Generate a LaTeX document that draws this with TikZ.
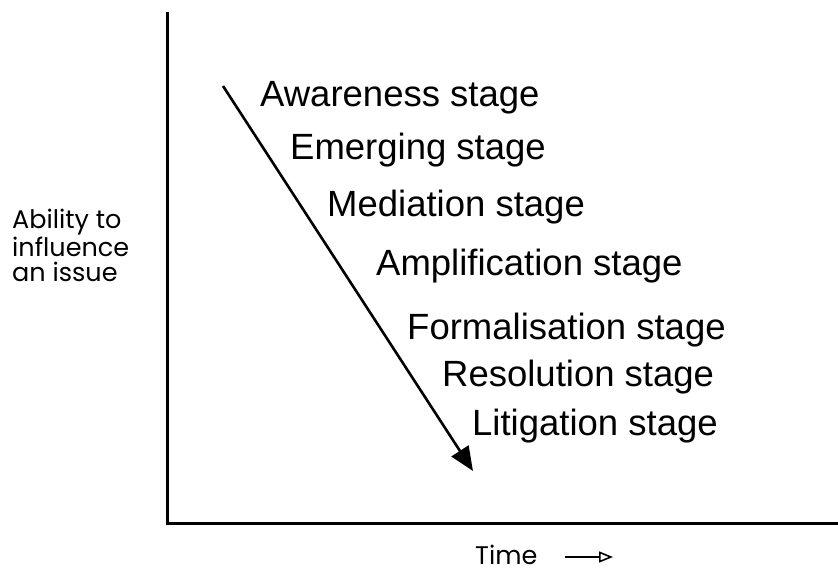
\documentclass[tikz,border=0pt]{standalone}
\usepackage{fontspec}
\setmainfont{Liberation Sans}
\newfontfamily\geofont{Poppins}
\usetikzlibrary{arrows.meta}
\begin{document}
\begin{tikzpicture}[x=1pt,y=-1pt,
  stagelabel/.style={anchor=base west,inner sep=0pt,font=\fontsize{36.5}{38}\selectfont},
  axislabel/.style={inner sep=0pt,font=\geofont\fontsize{25.5}{25}\selectfont},
  axisline/.style={line width=3pt},
  trend/.style={line width=2.6pt,-{Triangle[length=24pt,width=20pt]}}]
\useasboundingbox (0,0) rectangle (838,572);
% axes
\coordinate (ytop) at (167,12);
\coordinate (origin) at (167,523);
\coordinate (xend) at (838,523);
\draw[axisline] (ytop) -- (origin) -- (xend);
% stage labels
\node[stagelabel] (s1) at (260,107) {Awareness stage};
\node[stagelabel] (s2) at (290,160) {Emerging stage};
\node[stagelabel] (s3) at (327,217) {Mediation stage};
\node[stagelabel] (s4) at (376,276) {Amplification stage};
\node[stagelabel] (s5) at (407,339) {Formalisation stage};
\node[stagelabel] (s6) at (442,386) {Resolution stage};
\node[stagelabel] (s7) at (472,435) {Litigation stage};
% diagonal trend arrow
\coordinate (tstart) at (223,86);
\coordinate (tend) at (473,471);
\draw[trend] (tstart) -- (tend);
% axis labels
\node[axislabel,anchor=base west,align=left] (ylab) at (12,281)
  {Ability to\\influence\\an issue};
\node[axislabel,anchor=base west] (xlab) at (475,564) {Time};
\coordinate (ta) at (565,557);
\coordinate (tb) at (613,557);
\draw[line width=1.6pt,-{Triangle[open,length=14pt,width=11pt]}] (ta) -- (tb);
\end{tikzpicture}
\end{document}
